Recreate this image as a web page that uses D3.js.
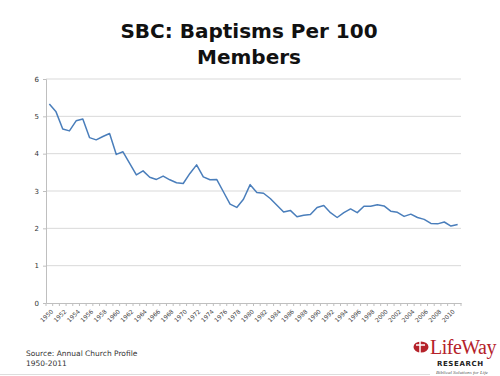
<!DOCTYPE html>
<html><head><meta charset="utf-8">
<script src="https://cdn.jsdelivr.net/npm/d3@7/dist/d3.min.js"></script>
<style>body{margin:0;background:#fff}svg{display:block}</style>
</head><body>
<svg id="c" width="500" height="376"></svg>
<script>
const years = d3.range(1950, 2012);
const baptisms = [5.33,5.12,4.66,4.61,4.88,4.93,4.43,4.37,4.46,4.54,
  3.98,4.05,3.74,3.43,3.54,3.37,3.31,3.40,3.30,3.22,
  3.20,3.47,3.70,3.38,3.30,3.31,2.98,2.65,2.56,2.78,
  3.17,2.96,2.94,2.80,2.62,2.44,2.48,2.31,2.35,2.37,
  2.56,2.61,2.42,2.29,2.42,2.52,2.42,2.59,2.59,2.63,
  2.60,2.46,2.43,2.32,2.38,2.29,2.24,2.13,2.12,2.17,
  2.06,2.10];
const yTicks = [0,1,2,3,4,5,6];
const titleLines = ["SBC: Baptisms Per 100","Members"];
const sourceLines = ["Source: Annual Church Profile","1950-2011"];

const svg = d3.select("#c");
const L = 46, R = 461, T = 79, B = 303;
const x = d3.scaleBand().domain(years).range([L, R]);
const y = d3.scaleLinear().domain([0,6]).range([B, T]);

// title
titleLines.forEach((t,i)=>{
  svg.append("text").attr("x",249).attr("y",38+i*26).attr("text-anchor","middle")
    .attr("font-family","DejaVu Sans").attr("font-weight","bold").attr("font-size",20)
    .attr("fill","#111").text(t);
});

// gridlines
svg.append("g").selectAll("line").data(yTicks.filter(d=>d>0)).join("line")
  .attr("x1",L).attr("x2",R).attr("y1",d=>y(d)).attr("y2",d=>y(d))
  .attr("stroke","#d9d9d9").attr("stroke-width",1);

// y axis
const ya = svg.append("g").attr("transform",`translate(${L},0)`)
  .call(d3.axisLeft(y).tickValues(yTicks).tickFormat(d3.format("d")).tickSize(3).tickPadding(4));
ya.select(".domain").attr("stroke","#bfbfbf");
ya.selectAll(".tick line").attr("stroke","#bfbfbf");
ya.selectAll("text").attr("font-family","DejaVu Sans").attr("font-size",7).attr("fill","#333");

// x axis
const xa = svg.append("g").attr("transform",`translate(0,${B})`)
  .call(d3.axisBottom(x).tickValues(years).tickSize(0).tickFormat(d => d%2===0 ? d : ""));
xa.select(".domain").attr("stroke","#bfbfbf");
xa.selectAll("text").attr("font-family","DejaVu Sans").attr("font-size",6).attr("fill","#444")
  .attr("text-anchor","end").attr("transform","translate(0,3) rotate(-45)").attr("dy","0.7em").attr("dx","-0.2em");
// boundary tick marks
svg.append("g").selectAll("line").data(years.concat([2012])).join("line")
  .attr("x1",d=> d===2012 ? R : x(d)).attr("x2",d=> d===2012 ? R : x(d))
  .attr("y1",B).attr("y2",B+3).attr("stroke","#bfbfbf");

// line
svg.append("path").datum(baptisms)
  .attr("fill","none").attr("stroke","#4a7ebb").attr("stroke-width",1.5)
  .attr("stroke-linejoin","round")
  .attr("d", d3.line().x((d,i)=>x(years[i])+x.bandwidth()/2).y(d=>y(d)));

// source
sourceLines.forEach((t,i)=>{
  svg.append("text").attr("x",26).attr("y",356+i*10).attr("font-family","DejaVu Sans")
    .attr("font-size",7.5).attr("fill","#333").text(t);
});

// bottom rule
svg.append("line").attr("x1",0).attr("x2",430).attr("y1",374.5).attr("y2",374.5)
  .attr("stroke","#ddd");

// logo
const lg = svg.append("g");
lg.append("ellipse").attr("cx",421).attr("cy",347).attr("rx",7.5).attr("ry",5.5).attr("fill","#b5222a");
lg.append("path").attr("d","M420,341 v12 M416,345 h9").attr("stroke","#fff").attr("stroke-width",1.5);
lg.append("text").attr("x",430).attr("y",354).attr("font-family","Liberation Serif")
  .attr("font-size",20).attr("fill","#b5222a").attr("letter-spacing","-0.5").text("LifeWay");
lg.append("text").attr("x",437).attr("y",366).attr("font-family","DejaVu Sans").attr("font-weight","bold")
  .attr("font-size",7).attr("fill","#222").attr("letter-spacing","0.6").text("RESEARCH");
lg.append("text").attr("x",436).attr("y",374).attr("font-family","Liberation Serif").attr("font-style","italic")
  .attr("font-size",5).attr("fill","#555").text("Biblical Solutions for Life");
</script>
</body></html>
